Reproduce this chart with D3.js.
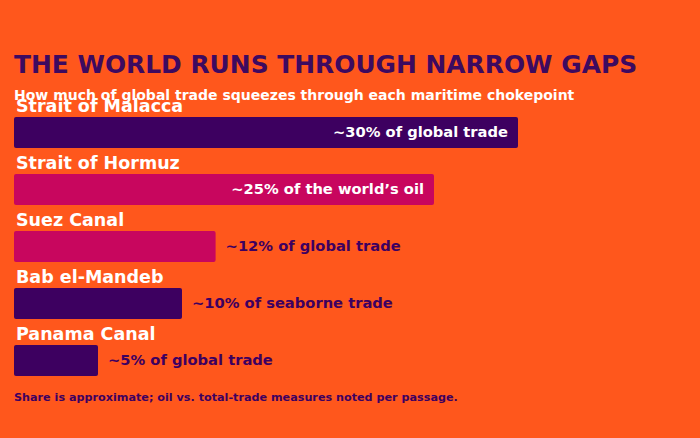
<!DOCTYPE html>
<html><head><meta charset="utf-8">
<script src="https://cdn.jsdelivr.net/npm/d3@7/dist/d3.min.js"></script>
<style>html,body{margin:0;padding:0;background:#ff571c;}svg{display:block;}</style>
</head><body>
<svg id="chart" width="700" height="438"></svg>
<script>
const categories = ["Strait of Malacca", "Strait of Hormuz", "Suez Canal", "Bab el-Mandeb", "Panama Canal"];
const shares = [30, 25, 12, 10, 5];
const valueLabels = ["~30% of global trade", "~25% of the world\u2019s oil", "~12% of global trade", "~10% of seaborne trade", "~5% of global trade"];
const groups = ["a", "b", "b", "a", "a"];

const W = 700, H = 438;
const font = "'DejaVu Sans', sans-serif";
const bg = "#ff571c", purple = "#3d0060", magenta = "#c8065e";
const svg = d3.select("#chart");
svg.append("rect").attr("width", W).attr("height", H).attr("fill", bg);

svg.append("text").attr("x", 14).attr("y", 73)
  .attr("font-family", font).attr("font-weight", "bold").attr("font-size", 24.9)
  .attr("fill", "#3d0a60").text("THE WORLD RUNS THROUGH NARROW GAPS");
svg.append("text").attr("x", 14).attr("y", 100)
  .attr("font-family", font).attr("font-weight", "bold").attr("font-size", 14)
  .attr("fill", "#ffffff").text("How much of global trade squeezes through each maritime chokepoint");

const x = d3.scaleLinear().domain([0, 30]).range([14, 518]);
const y = d3.scaleBand().domain(categories).range([98, 383]).paddingInner(0).paddingOuter(0);
const color = d3.scaleOrdinal().domain(["a", "b"]).range([purple, magenta]);
const barH = 31;

const g = svg.selectAll("g.row").data(categories).enter().append("g").attr("class", "row");
g.append("text").attr("x", 16).attr("y", d => y(d) + 14)
  .attr("font-family", font).attr("font-weight", "bold").attr("font-size", 17.5)
  .attr("fill", "#ffffff").text(d => d);
g.append("rect").attr("x", x(0)).attr("y", d => y(d) + 19)
  .attr("width", (d, i) => x(shares[i]) - x(0)).attr("height", barH)
  .attr("rx", 2).attr("fill", (d, i) => color(groups[i]));
g.append("text")
  .attr("x", (d, i) => shares[i] >= 20 ? x(shares[i]) - 10 : x(shares[i]) + 10)
  .attr("y", d => y(d) + 19 + barH / 2)
  .attr("dy", "0.3em")
  .attr("text-anchor", (d, i) => shares[i] >= 20 ? "end" : "start")
  .attr("font-family", font).attr("font-weight", "bold").attr("font-size", 14.7)
  .attr("fill", (d, i) => shares[i] >= 20 ? "#ffffff" : purple)
  .text((d, i) => valueLabels[i]);

svg.append("text").attr("x", 14).attr("y", 401)
  .attr("font-family", font).attr("font-weight", "bold").attr("font-size", 11.2)
  .attr("fill", purple).text("Share is approximate; oil vs. total-trade measures noted per passage.");
</script>
</body></html>
